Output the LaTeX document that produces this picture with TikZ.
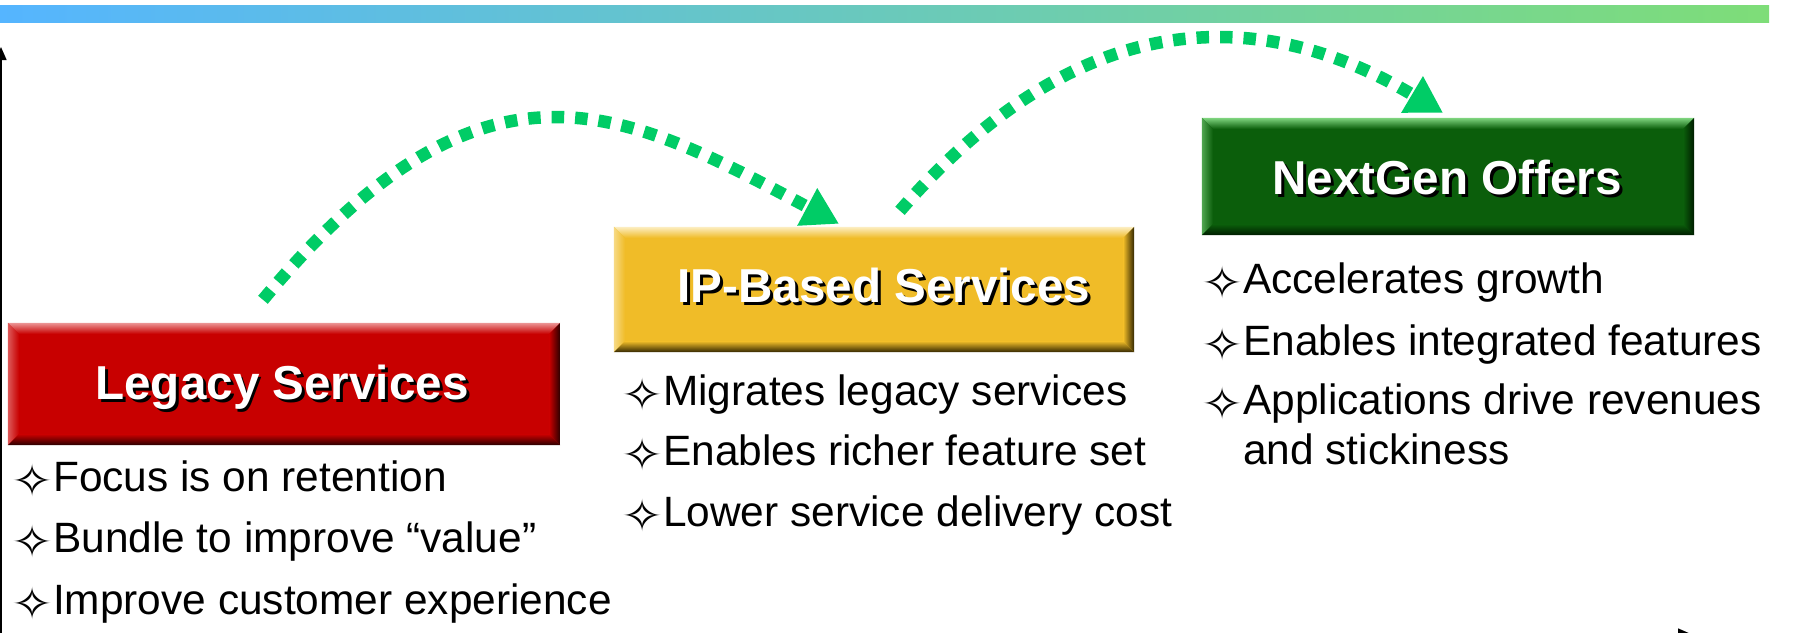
\documentclass[tikz,border=0pt]{standalone}
\usepackage{graphicx}
\usepackage{fontspec}
\setmainfont{Liberation Sans}
\newfontfamily\starfont{DejaVu Sans}
\usetikzlibrary{arrows.meta,calc}

\definecolor{barblue}{RGB}{85,181,255}
\definecolor{bargreen}{RGB}{126,221,120}
\definecolor{flowgreen}{RGB}{0,204,102}
\definecolor{redmain}{RGB}{200,0,0}
\definecolor{redlight}{RGB}{236,150,150}
\definecolor{reddark}{RGB}{40,0,0}
\definecolor{goldmain}{RGB}{240,188,40}
\definecolor{goldlight}{RGB}{252,238,195}
\definecolor{golddark}{RGB}{50,38,0}
\definecolor{greenmain}{RGB}{11,94,11}
\definecolor{greenlight}{RGB}{128,214,128}
\definecolor{greendark}{RGB}{0,28,0}

\newcommand\ttlfont{\fontsize{47.6pt}{57pt}\selectfont\bfseries}
\newcommand\itmfont{\fontsize{42.4pt}{50pt}\selectfont}
% four-pointed star bullet, enlarged and lowered to sit on the baseline
\newcommand\bul{\makebox[35pt][l]{\hspace{-6.5pt}\raisebox{-5pt}{\scalebox{1.62}[1.42]{\starfont\fontsize{31pt}{31pt}\selectfont ✧}}}}

% bevelled edges of a title box: node, light, main, dark
\newcommand\bevel[4]{%
  \shade[top color=#2, bottom color=#3]
    (#1.north west) -- (#1.north east) -- ($(#1.north east)+(-11,11)$) -- ($(#1.north west)+(11,11)$) -- cycle;
  \shade[left color=#2!60!#3, right color=#3]
    (#1.north west) -- ($(#1.north west)+(11,11)$) -- ($(#1.south west)+(11,-11)$) -- (#1.south west) -- cycle;
  \shade[left color=#3, right color=#4]
    (#1.north east) -- (#1.south east) -- ($(#1.south east)+(-11,-11)$) -- ($(#1.north east)+(-11,11)$) -- cycle;
  \shade[top color=#3, bottom color=#4]
    (#1.south west) -- (#1.south east) -- ($(#1.south east)+(-11,-11)$) -- ($(#1.south west)+(11,-11)$) -- cycle;
}

\tikzset{
  tbox/.style={draw=none, inner sep=0pt},
  title/.style={font=\ttlfont, text=white, anchor=base, inner sep=0pt},
  tshadow/.style={font=\ttlfont, text=black, anchor=base, inner sep=0pt},
  item/.style={font=\itmfont, anchor=base west, inner sep=0pt},
  flow/.style={draw=flowgreen, line width=12.5pt, dash pattern=on 12.5pt off 11pt,
    -{Triangle[length=36pt,width=40pt]}},
  axis/.style={draw=black, line width=1.5pt, -{Triangle[length=13pt,width=11pt]}}
}

\begin{document}
\begin{tikzpicture}[x=1pt,y=-1pt]
\useasboundingbox (0,0) rectangle (1810,632);
\clip (0,0) rectangle (1810,632);
\fill[white] (0,0) rectangle (1810,632);

% heading band
\shade[left color=barblue, right color=bargreen] (0,5) rectangle (1769,22);

% axes
\coordinate (origin) at (1,634);
\coordinate (ytop) at (1,47);
\coordinate (xend) at (1691,634);
\draw[axis] (origin) -- (ytop);
\draw[axis] (origin) -- (xend);

% stage boxes
\node[tbox, fill=redmain, minimum width=552pt, minimum height=122pt] (legacy) at (284,384) {};
\bevel{legacy}{redlight}{redmain}{reddark}
\node[tbox, fill=goldmain, minimum width=520pt, minimum height=125pt] (ip) at (874,289.5) {};
\bevel{ip}{goldlight}{goldmain}{golddark}
\node[tbox, fill=greenmain, minimum width=492pt, minimum height=117pt] (nextgen) at (1448,176.5) {};
\bevel{nextgen}{greenlight}{greenmain}{greendark}

% box titles with drop shadow
\node[tshadow] (legacys) at (285,402) {Legacy Services};
\node[title] (legacyt) at (282,399) {Legacy Services};
\node[tshadow] (ips) at (887,305) {IP-Based Services};
\node[title] (ipt) at (884,302) {IP-Based Services};
\node[tshadow] (nextgens) at (1450,197) {NextGen Offers};
\node[title] (nextgent) at (1447,194) {NextGen Offers};

% legacy points
\node[item] (l1) at (18,491) {\bul Focus is on retention};
\node[item] (l2) at (18,552) {\bul Bundle to improve “value”};
\node[item] (l3) at (18,614) {\bul Improve customer experience};

% IP points
\node[item] (i1) at (628,405) {\bul Migrates legacy services};
\node[item] (i2) at (628,465) {\bul Enables richer feature set};
\node[item] (i3) at (628,526) {\bul Lower service delivery cost};

% NextGen points
\node[item] (n1) at (1208,293) {\bul Accelerates growth};
\node[item] (n2) at (1208,355) {\bul Enables integrated features};
\node[item] (n3) at (1208,414) {\bul Applications drive revenues};
\node[item] (n4) at (1243,464) {and stickiness};

% migration path
\draw[flow] ($(legacy.north)+(-21,-23)$) .. controls (485,33) and (625,110) .. ($(ip.north)+(-35,-3)$);
\draw[flow] ($(ip.north)+(26,-16)$) .. controls (1091,-9) and (1275,13) .. ($(nextgen.north)+(-5,-5)$);
\end{tikzpicture}
\end{document}
